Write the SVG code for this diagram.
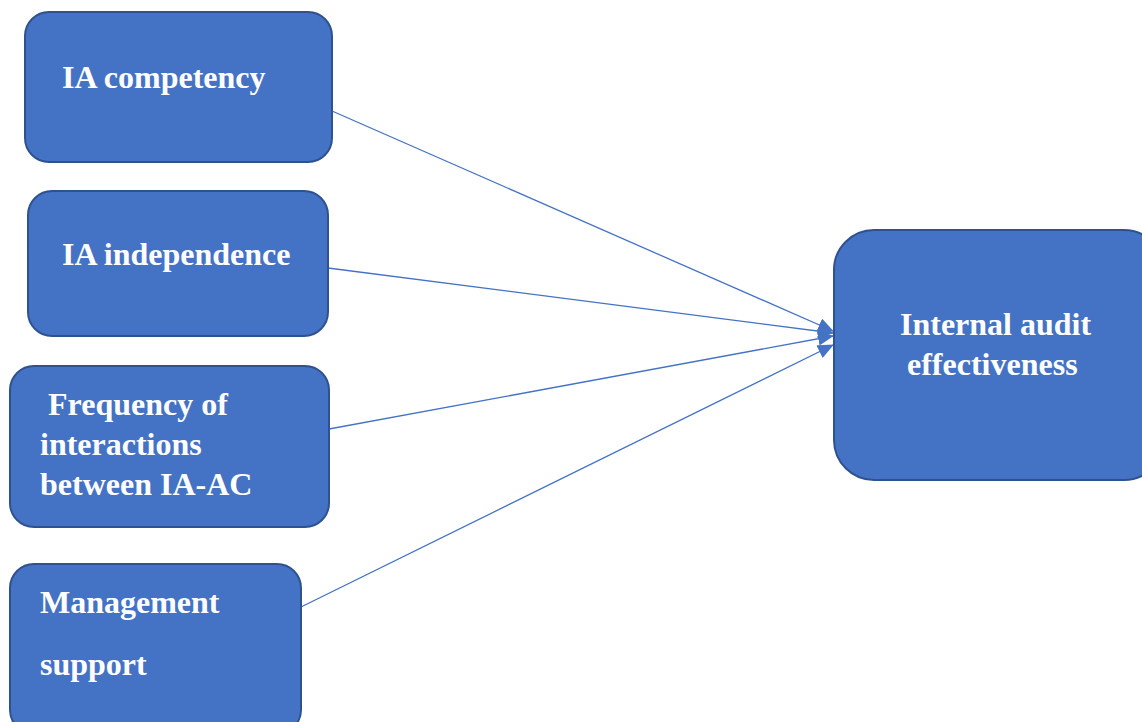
<svg xmlns="http://www.w3.org/2000/svg" width="1142" height="722" viewBox="0 0 1142 722">
<style>
.box{fill:#4472C4;stroke:#2F528F;stroke-width:2}
.lbl{font-family:"Liberation Serif","Times New Roman",serif;font-weight:bold;font-size:32px;fill:#FFFFFF}
.con{stroke:#4472C4;stroke-width:1.3;fill:none;marker-end:url(#arr)}
</style>
<defs>
<marker id="arr" markerUnits="userSpaceOnUse" markerWidth="16" markerHeight="14" refX="15" refY="7" orient="auto">
<path d="M0,0 L16,7 L0,14 Z" fill="#4472C4"/>
</marker>
</defs>
<rect width="1142" height="722" fill="#FFFFFF"/>
<g id="connectors">
<line class="con" x1="332" y1="111" x2="833" y2="331"/>
<line class="con" x1="328" y1="268" x2="833" y2="333"/>
<line class="con" x1="329" y1="429" x2="833" y2="336"/>
<line class="con" x1="301" y1="607" x2="833" y2="345"/>
</g>
<g id="n1">
<rect class="box" x="25" y="12" width="307" height="150" rx="24"/>
<text class="lbl" x="62" y="88">IA competency</text>
</g>
<g id="n2">
<rect class="box" x="28" y="191" width="300" height="145" rx="24"/>
<text class="lbl" x="62" y="265">IA independence</text>
</g>
<g id="n3">
<rect class="box" x="10" y="366" width="319" height="161" rx="24"/>
<text class="lbl" x="48" y="415">Frequency of</text>
<text class="lbl" x="40" y="455">interactions</text>
<text class="lbl" x="40" y="495">between IA-AC</text>
</g>
<g id="n4">
<rect class="box" x="10" y="564" width="291" height="170" rx="24"/>
<text class="lbl" x="40" y="613">Management</text>
<text class="lbl" x="40" y="675">support</text>
</g>
<g id="n5">
<rect class="box" x="834" y="230" width="330" height="250" rx="40"/>
<text class="lbl" x="900" y="335">Internal audit</text>
<text class="lbl" x="907" y="375">effectiveness</text>
</g>
</svg>
